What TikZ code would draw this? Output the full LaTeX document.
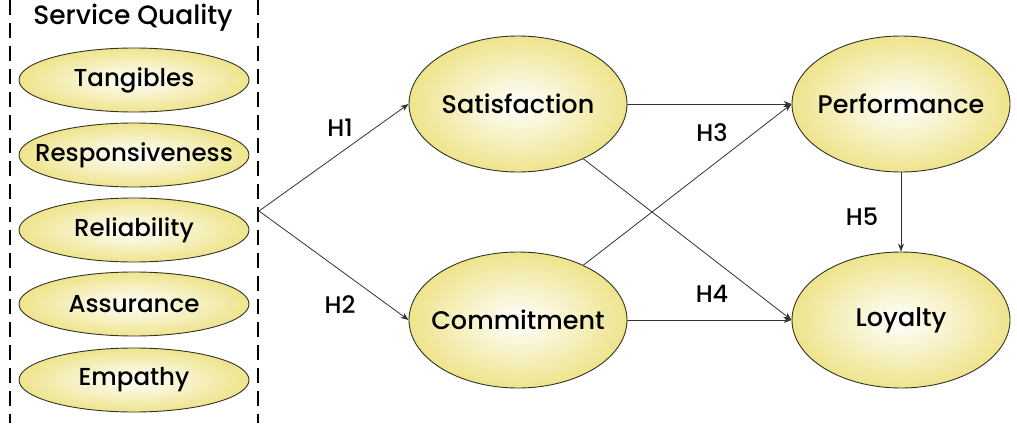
\documentclass[tikz,border=0pt]{standalone}
\usepackage{fontspec}
\setmainfont{Poppins Medium}
\usetikzlibrary{shapes.geometric,arrows.meta}
\definecolor{ellout}{RGB}{238,228,140}
\definecolor{ellline}{RGB}{50,50,40}
\tikzset{
  ellbase/.style={ellipse, draw=ellline, line width=0.9pt, inner color=white, outer color=ellout, inner sep=0pt},
  bigell/.style={ellbase, minimum width=218pt, minimum height=136pt},
  smallell/.style={ellbase, minimum width=230pt, minimum height=64pt},
  bigtxt/.style={font=\fontsize{25.5}{28}\selectfont},
  smalltxt/.style={font=\fontsize{24.5}{26}\selectfont},
  conn/.style={draw=black!80, line width=0.8pt, -{Stealth[length=8pt,width=6pt]}},
  hlabel/.style={font=\fontsize{24}{28}\selectfont},
  dashline/.style={line width=1.5pt, dash pattern=on 15pt off 8pt}
}
\begin{document}
\begin{tikzpicture}[x=1pt,y=-1pt]
\useasboundingbox[fill=white] (0,0) rectangle (1017,423);
\draw[dashline] (10,0) -- (10,423);
\draw[dashline] (258,0) -- (258,423);
\node[font=\fontsize{26.5}{28}\selectfont] (sq) at (133,18) {Service Quality};
\node[smallell, label={[smalltxt]center:Tangibles}] (tan) at (134,80) {};
\node[smallell, label={[smalltxt]center:Responsiveness}] (res) at (134,155) {};
\node[smallell, label={[smalltxt]center:Reliability}] (rel) at (134,230) {};
\node[smallell, label={[smalltxt]center:Assurance}] (ass) at (134,304) {};
\node[smallell, label={[smalltxt]center:Empathy}] (emp) at (134,380) {};
\coordinate (j) at (259,211);
\node[bigell, label={[bigtxt]center:Satisfaction}] (sat) at (518,104) {};
\node[bigell, label={[bigtxt]center:Commitment}] (com) at (518,320) {};
\node[bigell, label={[bigtxt]center:Performance}] (per) at (901,104) {};
\node[bigell, label={[bigtxt]center:Loyalty}] (loy) at (901,320) {};
\draw[conn] (j) -- (sat.west);
\draw[conn] (j) -- (com.west);
\draw[conn] (sat.east) -- (per.west);
\draw[conn] (com.east) -- (loy.west);
\draw[conn] (sat.-40) -- (loy.west);
\draw[conn] (com.40) -- (per.west);
\draw[conn] (per.south) -- (loy.north);
\node[hlabel] (h1) at (340,128) {H1};
\node[hlabel] (h2) at (340,305) {H2};
\node[hlabel] (h3) at (712,133) {H3};
\node[hlabel] (h4) at (712,294) {H4};
\node[hlabel] (h5) at (862,217) {H5};
\end{tikzpicture}
\end{document}
